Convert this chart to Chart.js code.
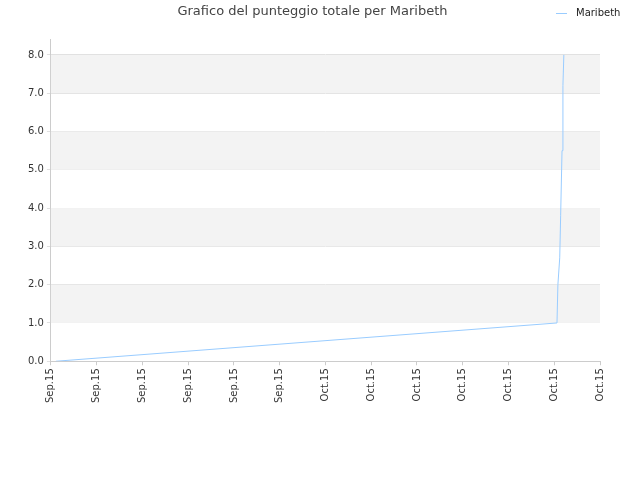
<!DOCTYPE html>
<html>
<head>
<meta charset="utf-8">
<script src="https://cdn.jsdelivr.net/npm/chart.js"></script>
<style>
  html, body { margin: 0; padding: 0; background: #fff; }
  #wrap { width: 640px; height: 480px; }
</style>
</head>
<body>
<div id="wrap"><canvas id="c" width="640" height="480"></canvas></div>
<script>
const tickLabels = ["Sep.15","Sep.15","Sep.15","Sep.15","Sep.15","Sep.15","Oct.15","Oct.15","Oct.15","Oct.15","Oct.15","Oct.15","Oct.15"];
// x in label-index units, y = score
const scoreX = [0.11, 11.06, 11.08, 11.12, 11.14, 11.17, 11.19, 11.21];
const scoreY = [0.0, 1.0, 2.0, 2.7, 3.8, 5.5, 7.2, 8.0];
const seriesName = "Maribeth";

const bands = {
  id: "bands",
  beforeDatasetsDraw(chart) {
    const { ctx, chartArea: a, scales: { y } } = chart;
    ctx.save();
    ctx.fillStyle = "#f3f3f3";
    for (let v = 1; v < 8.4; v += 2) {
      const top = y.getPixelForValue(Math.min(v + 1, 8.4));
      const bot = y.getPixelForValue(v);
      ctx.fillRect(a.left, top, a.right - a.left, bot - top);
    }
    ctx.restore();
  }
};

// small legend in the top-right corner, same row as the title
const cornerLegend = {
  id: "cornerLegend",
  afterDraw(chart) {
    const ctx = chart.ctx;
    ctx.save();
    ctx.strokeStyle = "#99ccff";
    ctx.lineWidth = 1;
    ctx.beginPath();
    ctx.moveTo(556, 13.5); ctx.lineTo(567, 13.5);
    ctx.stroke();
    ctx.fillStyle = "#222";
    ctx.font = "10px 'DejaVu Sans'";
    ctx.textBaseline = "middle";
    ctx.fillText(seriesName, 576, 13);
    ctx.restore();
  }
};

new Chart(document.getElementById("c"), {
  type: "line",
  data: {
    datasets: [{
      label: seriesName,
      data: scoreX.map((x, i) => ({ x, y: scoreY[i] })),
      borderColor: "#99ccff",
      borderWidth: 1,
      pointRadius: 0,
      tension: 0
    }]
  },
  options: {
    responsive: false,
    animation: false,
    layout: { padding: { left: 25, right: 40, top: 0, bottom: 74 } },
    plugins: {
      title: {
        display: true, text: "Grafico del punteggio totale per Maribeth",
        color: "#444", font: { family: "DejaVu Sans", size: 13, weight: "normal" },
        padding: { top: 4, bottom: 20 }
      },
      legend: { display: false }
    },
    scales: {
      x: {
        type: "linear", min: 0, max: 12,
        grid: { display: true, drawOnChartArea: false, tickLength: 4, color: "#ccc" },
        border: { color: "#ccc" },
        ticks: {
          stepSize: 1, autoSkip: false, maxRotation: 90, minRotation: 90,
          color: "#333", font: { family: "DejaVu Sans", size: 10 },
          callback: v => tickLabels[v]
        }
      },
      y: {
        min: 0, max: 8.4,
        grid: { color: "#e0e0e0", tickLength: 4 },
        border: { color: "#ccc" },
        afterBuildTicks: s => { s.ticks = [0,1,2,3,4,5,6,7,8].map(v => ({ value: v })); },
        ticks: {
          color: "#333", font: { family: "DejaVu Sans", size: 10 },
          callback: v => v.toFixed(1)
        }
      }
    }
  },
  plugins: [bands, cornerLegend]
});
</script>
</body>
</html>
